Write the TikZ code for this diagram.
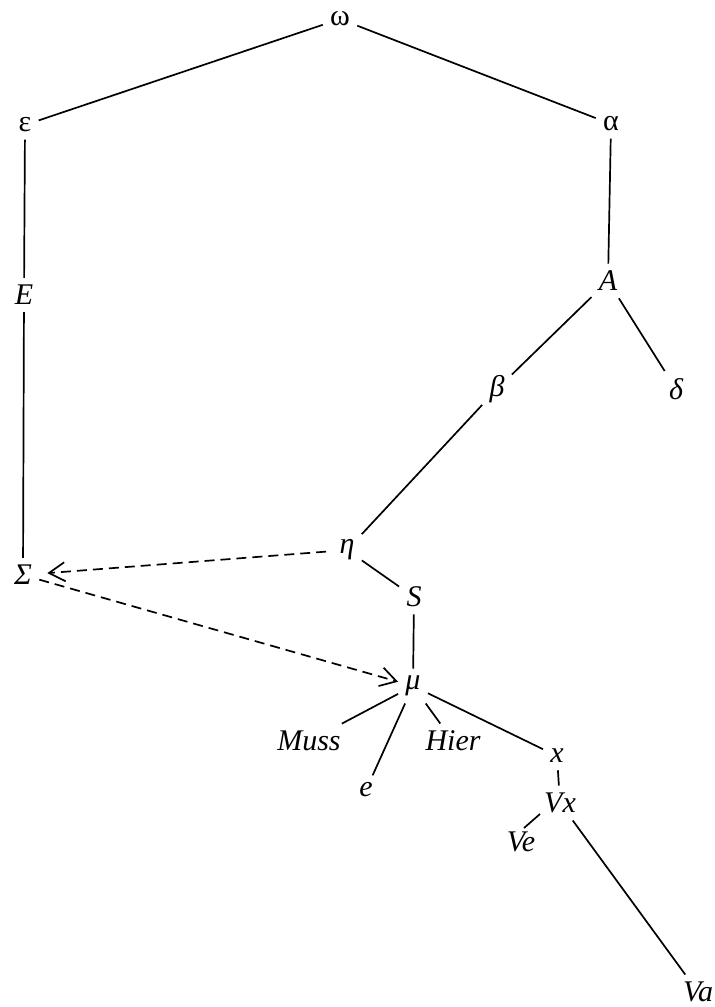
\documentclass[tikz,border=0pt]{standalone}
\usepackage{fontspec}
\setmainfont{Liberation Serif}
\usetikzlibrary{arrows.meta,calc}
\begin{document}
\begin{tikzpicture}[x=0.5pt,y=-0.5pt,
  lbl/.style={inner sep=3.5pt, font=\fontsize{15}{17}\selectfont},
  ilbl/.style={lbl, font=\fontsize{15}{17}\selectfont\itshape},
  edge/.style={line width=0.85pt},
  dep/.style={line width=0.85pt, dash pattern=on 5pt off 3pt, -{Straight Barb[length=8pt,width=9.5pt,line width=0.85pt]}}]
\useasboundingbox (0,0) rectangle (714,1007);
\node[lbl] (om) at (340,19) {ω};
\node[lbl] (ep) at (25,125) {ε};
\node[lbl] (al) at (611,124) {α};
\node[ilbl] (E) at (24,295) {E};
\node[ilbl] (A) at (608,281) {A};
\node[ilbl] (be) at (497,389) {β};
\node[ilbl] (de) at (676,389) {δ};
\node[ilbl] (et) at (347,550) {η};
\node[ilbl] (Si) at (23,575) {Σ};
\node[ilbl] (S) at (414,597) {S};
\node[ilbl] (mu) at (413,686) {μ};
\node[ilbl] (Muss) at (309,741) {Muss};
\node[ilbl] (e) at (366,790) {e};
\node[ilbl] (Hier) at (453,741) {Hier};
\node[ilbl] (x) at (557,756) {x};
\node[ilbl] (Vx) at (560,803) {Vx};
\node[ilbl] (Ve) at (521,842) {Ve};
\node[ilbl] (Va) at (698,992) {Va};
\draw[edge] (om) -- (ep);
\draw[edge] (om) -- (al);
\draw[edge] (ep) -- (E);
\draw[edge] (E) -- (Si);
\draw[edge] (al) -- (A);
\draw[edge] (A) -- (be);
\draw[edge] (A) -- (de);
\draw[edge] (be) -- (et);
\draw[edge] (et) -- (S);
\draw[edge] (S) -- (mu);
\draw[edge] (mu) -- (Muss);
\draw[edge] (mu) -- (e);
\draw[edge] (mu) -- (Hier);
\draw[edge] (mu) -- (x);
\draw[edge] (x) -- (Vx);
\draw[edge] ($(Vx)+(-20,11)$) -- ($(Ve)+(3,-14)$);
\draw[edge] (Vx) -- (Va);
\draw[dep, shorten >=4pt, shorten <=3pt] (et) -- (Si);
\draw[dep] (Si) -- (mu);
\end{tikzpicture}
\end{document}
